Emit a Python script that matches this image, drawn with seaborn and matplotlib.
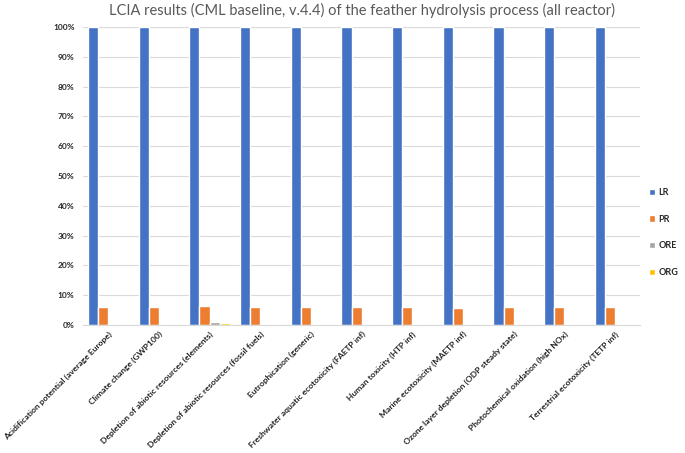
import numpy as np
import pandas as pd
import matplotlib
matplotlib.use('Agg')
import matplotlib.pyplot as plt
import seaborn as sns
from matplotlib.ticker import PercentFormatter

# --- data ---
categories = [
    'Acidification potential (average Europe)',
    'Climate change (GWP100)',
    'Depletion of abiotic resources (elements)',
    'Depletion of abiotic resources (fossil fuels)',
    'Eutrophication (generic)',
    'Freshwater aquatic ecotoxicity (FAETP inf)',
    'Human toxicity (HTP inf)',
    'Marine ecotoxicity (MAETP inf)',
    'Ozone layer depletion (ODP steady state)',
    'Photochemical oxidation (high NOx)',
    'Terrestrial ecotoxicity (TETP inf)',
]
series = ['LR', 'PR', 'ORE', 'ORG']
lr = [100, 100, 100, 100, 100, 100, 100, 100, 100, 100, 100]
pr = [6.1, 6.1, 6.3, 6.1, 5.9, 6.1, 6.1, 5.8, 6.1, 6.1, 6.1]
ore = [0.3, 0.2, 0.9, 0.2, 0.3, 0.3, 0.3, 0.2, 0.2, 0.3, 0.4]
org = [0.05, 0.3, 0.7, 0.3, 0.05, 0.05, 0.05, 0.05, 0.3, 0.05, 0.3]
colors = ['#4472C4', '#ED7D31', '#A5A5A5', '#FFC000']

df = pd.DataFrame({
    'category': np.repeat(categories, 4),
    'series': series * len(categories),
    'value': [v for row in zip(lr, pr, ore, org) for v in row],
})

sns.set_style('white')
plt.rcParams['font.family'] = ['Lato', 'DejaVu Sans']

fig, ax = plt.subplots(figsize=(6.85, 4.53), dpi=100)
sns.barplot(data=df, x='category', y='value', hue='series', palette=colors,
            width=0.8, gap=0, saturation=1, ax=ax)

ax.set_ylim(0, 100)
ax.set_yticks(np.arange(0, 101, 10))
ax.yaxis.set_major_formatter(PercentFormatter(decimals=0))
ax.grid(axis='y', color='#D9D9D9', linewidth=0.8)
ax.set_axisbelow(True)
for s in ['top', 'right', 'left']:
    ax.spines[s].set_visible(False)
ax.spines['bottom'].set_color('#D9D9D9')
ax.set_xlabel('')
ax.set_ylabel('')
ax.tick_params(axis='y', length=0, labelsize=6, pad=6)
ax.tick_params(axis='x', length=0, pad=4)
for lab in ax.get_yticklabels():
    lab.set_fontweight('bold')
ax.set_xticks(range(len(categories)))
ax.set_xticklabels(categories, rotation=45, ha='right', rotation_mode='anchor',
                   fontsize=6.1, fontweight='bold', color='#222222')

ax.set_title('LCIA results (CML baseline, v.4.4) of the feather hydrolysis process (all reactor)',
             fontsize=10.5, color='#595959', pad=9)

leg = ax.legend(loc='center left', bbox_to_anchor=(1.0, 0.31), frameon=False,
                fontsize=6.5, handlelength=0.7, handleheight=0.7,
                labelspacing=1.95, handletextpad=0.4)
for t in leg.get_texts():
    t.set_fontweight('bold')

fig.subplots_adjust(left=0.121, right=0.935, top=0.94, bottom=0.283)
fig.savefig('out.png', dpi=100)
